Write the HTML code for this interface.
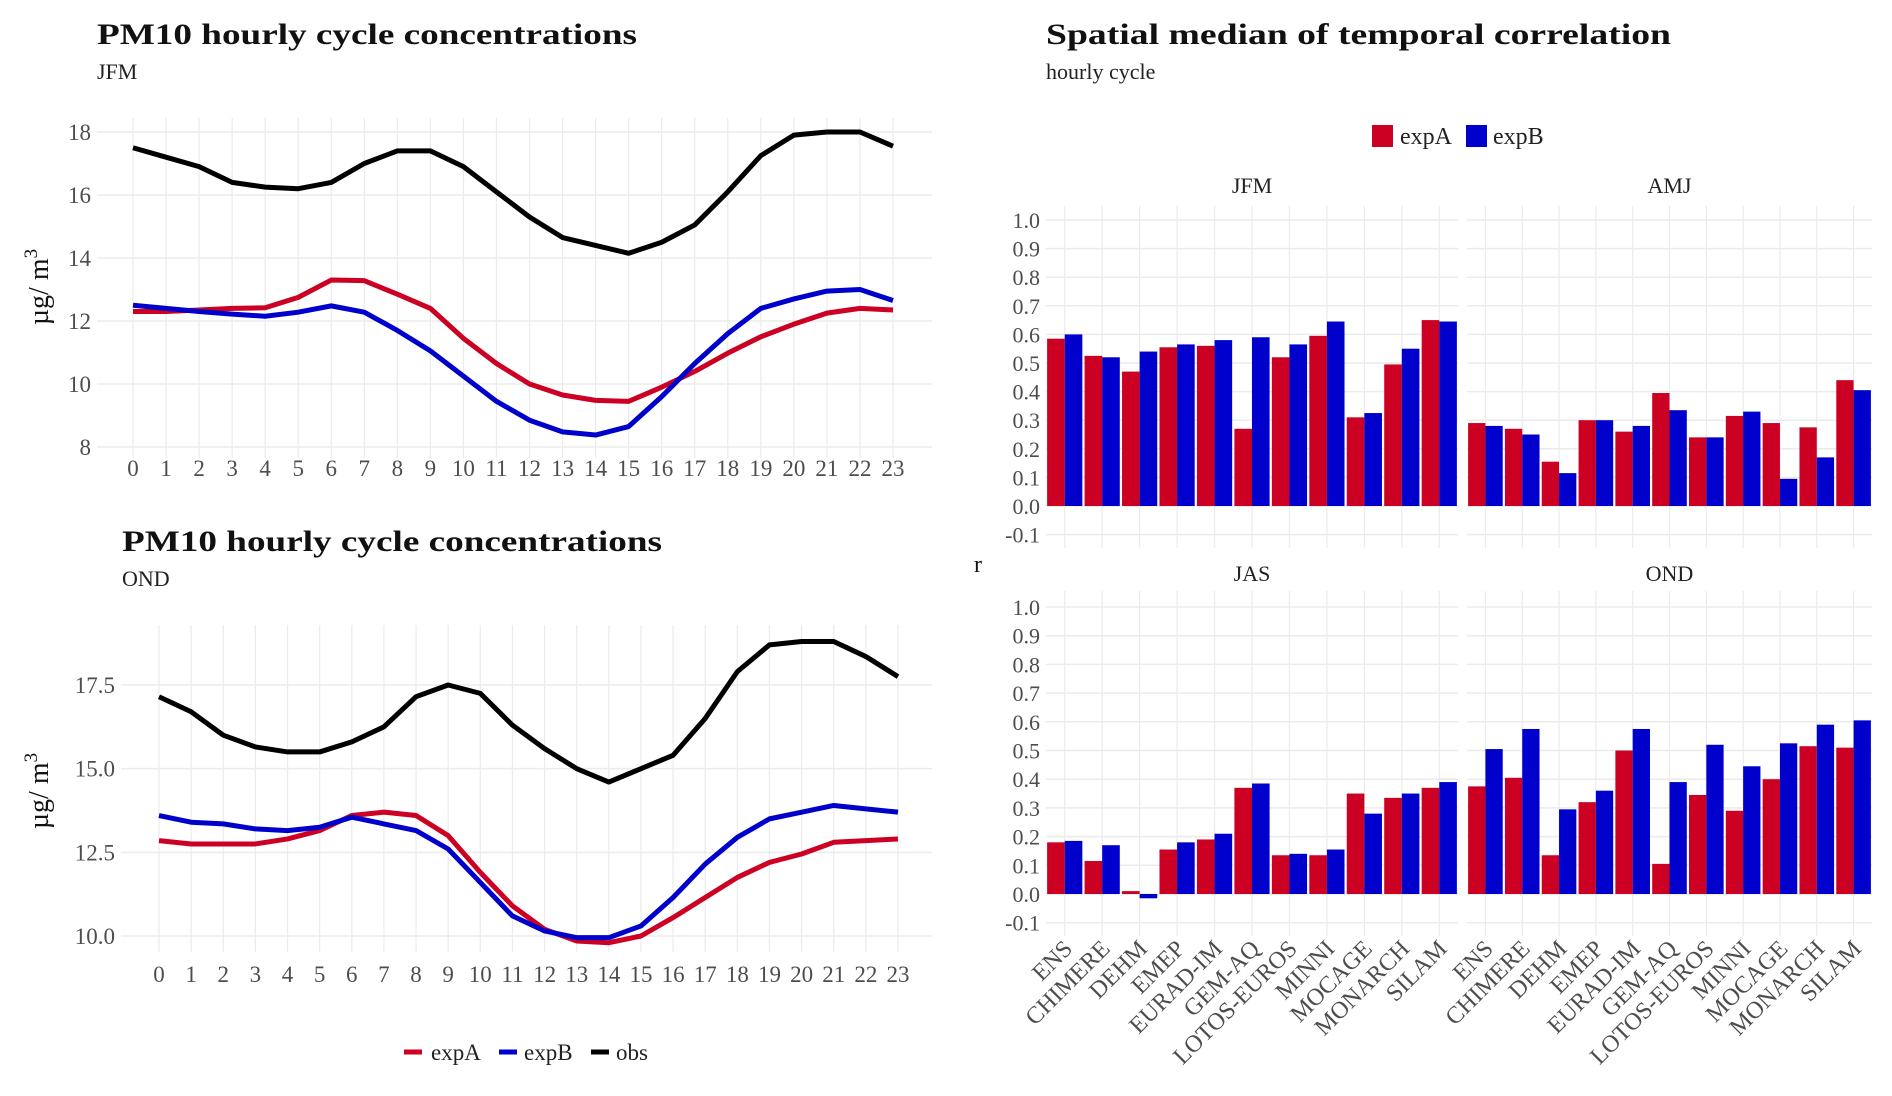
<!DOCTYPE html>
<html><head><meta charset="utf-8">
<style>
html,body{margin:0;padding:0;background:#fff;}
svg{display:block;font-family:"Liberation Serif",serif;}
</style></head>
<body>
<svg id="root" width="1892" height="1096" viewBox="0 0 1892 1096" xmlns="http://www.w3.org/2000/svg">
  <text x="97" y="44" font-size="30" font-weight="bold" fill="#111" textLength="540" lengthAdjust="spacingAndGlyphs">PM10 hourly cycle concentrations</text>
  <text x="97" y="79" font-size="22" fill="#222">JFM</text>
  <text x="122" y="551" font-size="30" font-weight="bold" fill="#111" textLength="540" lengthAdjust="spacingAndGlyphs">PM10 hourly cycle concentrations</text>
  <text x="122" y="586" font-size="22" fill="#222">OND</text>
  <text x="1046" y="44" font-size="30" font-weight="bold" fill="#111" textLength="625" lengthAdjust="spacingAndGlyphs">Spatial median of temporal correlation</text>
  <text x="1046" y="79" font-size="22" fill="#222">hourly cycle</text>
  <g id="lines"></g>
  <g id="bars"></g>
</svg>
<script>
const hours = Array.from({length:24},(_,i)=>i);
const jfmObs = [17.5,17.2,16.9,16.4,16.25,16.2,16.4,17.0,17.4,17.4,16.9,16.1,15.3,14.65,14.4,14.15,14.5,15.05,16.1,17.25,17.9,18.0,18.0,17.55];
const jfmExpA = [12.3,12.3,12.35,12.4,12.42,12.75,13.3,13.28,12.85,12.4,11.45,10.65,10.0,9.65,9.48,9.45,9.9,10.4,10.98,11.5,11.9,12.25,12.4,12.35];
const jfmExpB = [12.5,12.4,12.3,12.22,12.15,12.28,12.48,12.28,11.7,11.05,10.25,9.45,8.85,8.48,8.38,8.65,9.6,10.65,11.6,12.4,12.7,12.95,13.0,12.65];
const ondObs = [17.15,16.7,16.0,15.65,15.5,15.5,15.8,16.25,17.15,17.5,17.25,16.3,15.6,15.0,14.6,15.0,15.4,16.5,17.9,18.7,18.8,18.8,18.35,17.75];
const ondExpA = [12.85,12.75,12.75,12.75,12.9,13.15,13.6,13.7,13.6,13.0,11.9,10.9,10.2,9.85,9.8,10.0,10.55,11.15,11.75,12.2,12.45,12.8,12.85,12.9];
const ondExpB = [13.6,13.4,13.35,13.2,13.15,13.25,13.55,13.35,13.15,12.6,11.6,10.6,10.15,9.95,9.95,10.3,11.15,12.15,12.95,13.5,13.7,13.9,13.8,13.7];
const jfmYTicks = [8,10,12,14,16,18];
const ondYTicks = [10.0,12.5,15.0,17.5];

const models = ["ENS","CHIMERE","DEHM","EMEP","EURAD-IM","GEM-AQ","LOTOS-EUROS","MINNI","MOCAGE","MONARCH","SILAM"];
const barJfmA = [0.585,0.525,0.47,0.555,0.56,0.27,0.52,0.595,0.31,0.495,0.65];
const barJfmB = [0.60,0.52,0.54,0.565,0.58,0.59,0.565,0.645,0.325,0.55,0.645];
const barAmjA = [0.29,0.27,0.155,0.30,0.26,0.395,0.24,0.315,0.29,0.275,0.44];
const barAmjB = [0.28,0.25,0.115,0.30,0.28,0.335,0.24,0.33,0.095,0.17,0.405];
const barJasA = [0.18,0.115,0.01,0.155,0.19,0.37,0.135,0.135,0.35,0.335,0.37];
const barJasB = [0.185,0.17,-0.015,0.18,0.21,0.385,0.14,0.155,0.28,0.35,0.39];
const barOndA = [0.375,0.405,0.135,0.32,0.50,0.105,0.345,0.29,0.40,0.515,0.51];
const barOndB = [0.505,0.575,0.295,0.36,0.575,0.39,0.52,0.445,0.525,0.59,0.605];
const rTicks = [-0.1,0.0,0.1,0.2,0.3,0.4,0.5,0.6,0.7,0.8,0.9,1.0];

const NS="http://www.w3.org/2000/svg";
const RED="#cc0022", BLUE="#0000cc", GRID="#ebebeb", TICK="#4d4d4d";
function mk(tag, attrs, parent){const e=document.createElementNS(NS,tag);for(const k in attrs)e.setAttribute(k,attrs[k]);parent.appendChild(e);return e;}

const linesG=document.getElementById('lines');
function linePanel(cfg){
  const g=mk('g',{},linesG);
  
  
  const xs=h=>cfg.x0+(cfg.x1-cfg.x0)*h/23;
  const ys=v=>cfg.yA+(cfg.yB-cfg.yA)*(v-cfg.vA)/(cfg.vB-cfg.vA);
  hours.forEach(h=>{
    const l=mk('line',{x1:xs(h),x2:xs(h),y1:cfg.top,y2:cfg.bottom,stroke:GRID,'stroke-width':1.2},g);
    
    
    const t=mk('text',{x:xs(h),y:cfg.tickY,'font-size':23,fill:TICK,'text-anchor':'middle'},g);
    t.textContent=h;
    
    
  });
  cfg.yTicks.forEach(v=>{
    const l=mk('line',{x1:cfg.left,x2:cfg.right,y1:ys(v),y2:ys(v),stroke:GRID,'stroke-width':1.5},g);
    
    
    const t=mk('text',{x:cfg.labelX,y:ys(v)+8,'font-size':23,fill:TICK,'text-anchor':'end'},g);
    t.textContent=cfg.fmt(v);
    
    
  });
  const yt=mk('text',{x:0,y:0,'font-size':28,fill:'#111','text-anchor':'middle',transform:`translate(${cfg.titleX},${cfg.titleY}) rotate(-90)`},g);
  yt.innerHTML='µg/ m<tspan dy="-11" font-size="19">3</tspan>';
  
  
  [[cfg.a,RED,'line-expA'],[cfg.b,BLUE,'line-expB'],[cfg.o,'#000','line-obs']].forEach(([arr,c,n])=>{
    const p=mk('polyline',{points:arr.map((v,i)=>xs(hours[i])+','+ys(v)).join(' '),fill:'none',stroke:c,'stroke-width':5,'stroke-linejoin':'round'},g);
    
    
  });
}
linePanel({name:'jfm-line-chart',x0:133,x1:893,left:97,right:932,top:118,bottom:458,vA:18,yA:132,vB:8,yB:447,yTicks:jfmYTicks,labelX:91,tickY:476,titleX:48,titleY:287,fmt:v=>String(v),a:jfmExpA,b:jfmExpB,o:jfmObs});
linePanel({name:'ond-line-chart',x0:159,x1:898,left:121,right:932,top:625,bottom:952,vA:17.5,yA:685,vB:10,yB:936,yTicks:ondYTicks,labelX:115,tickY:982,titleX:48,titleY:791,fmt:v=>v.toFixed(1),a:ondExpA,b:ondExpB,o:ondObs});

const lg=mk('g',{},linesG);


[[404,431,RED,'expA'],[499,524,BLUE,'expB'],[591,616,'#000','obs']].forEach(([x,tx,c,lab])=>{
  const e=mk('g',{},lg);
  
  
  mk('line',{x1:x,x2:x+18,y1:1052,y2:1052,stroke:c,'stroke-width':5},e);
  const t=mk('text',{x:tx,y:1060,'font-size':23,fill:'#222'},e);t.textContent=lab;
});

const barsG=document.getElementById('bars');
const bl=mk('g',{},barsG);


[[1372,1400,RED,'expA'],[1466,1493,BLUE,'expB']].forEach(([x,tx,c,lab])=>{
  const e=mk('g',{},bl);
  
  
  mk('rect',{x:x,y:125,width:21,height:22,fill:c},e);
  const t=mk('text',{x:tx,y:144,'font-size':24,fill:'#222'},e);t.textContent=lab;
});
const rt=mk('text',{x:978,y:572,'font-size':24,fill:'#111','text-anchor':'middle'},barsG);
rt.textContent='r';



function barPanel(cfg){
  const g=mk('g',{},barsG);
  
  
  const band=(cfg.right-cfg.left)/models.length;
  const ys=v=>cfg.zeroY-(cfg.zeroY-cfg.oneY)*v;
  const st=mk('text',{x:(cfg.left+cfg.right)/2,y:cfg.stripY,'font-size':22,fill:'#222','text-anchor':'middle'},g);
  st.textContent=cfg.label;
  
  
  rTicks.forEach(v=>{
    const l=mk('line',{x1:cfg.left,x2:cfg.right,y1:ys(v),y2:ys(v),stroke:GRID,'stroke-width':1.5},g);
    
    
    if(cfg.yLabels){
      const t=mk('text',{x:1040,y:ys(v)+8,'font-size':22,fill:TICK,'text-anchor':'end'},g);
      t.textContent=v.toFixed(1);
      
      
    }
  });
  models.forEach((m,i)=>{
    const cx=cfg.left+band*(i+0.5);
    const l=mk('line',{x1:cx,x2:cx,y1:cfg.top,y2:cfg.bottom,stroke:GRID,'stroke-width':1.2},g);
    
    
    const bw=band*0.47;
    [[cfg.a[i],RED,cx-bw,'bar-expA-'],[cfg.b[i],BLUE,cx,'bar-expB-']].forEach(([v,c,x,n])=>{
      const y0=ys(0), y1=ys(v);
      const r=mk('rect',{x:x,y:Math.min(y0,y1),width:bw,height:Math.max(1,Math.abs(y1-y0)),fill:c},g);
      
      
    });
    if(cfg.xLabels){
      const t=mk('text',{x:0,y:0,'font-size':24,fill:TICK,'text-anchor':'end',transform:`translate(${cx+9},${cfg.bottom+14}) rotate(-45)`},g);
      t.textContent=m;
      
      
    }
  });
}
barPanel({name:'jfm-bar-panel',label:'JFM',left:1046,right:1458,top:206,bottom:548,stripY:193,zeroY:506,oneY:220,a:barJfmA,b:barJfmB,yLabels:true,xLabels:false});
barPanel({name:'amj-bar-panel',label:'AMJ',left:1467,right:1872,top:206,bottom:548,stripY:193,zeroY:506,oneY:220,a:barAmjA,b:barAmjB,yLabels:false,xLabels:false});
barPanel({name:'jas-bar-panel',label:'JAS',left:1046,right:1458,top:591,bottom:936,stripY:581,zeroY:894,oneY:607,a:barJasA,b:barJasB,yLabels:true,xLabels:true});
barPanel({name:'ond-bar-panel',label:'OND',left:1467,right:1872,top:591,bottom:936,stripY:581,zeroY:894,oneY:607,a:barOndA,b:barOndB,yLabels:false,xLabels:true});
</script>
</body></html>
